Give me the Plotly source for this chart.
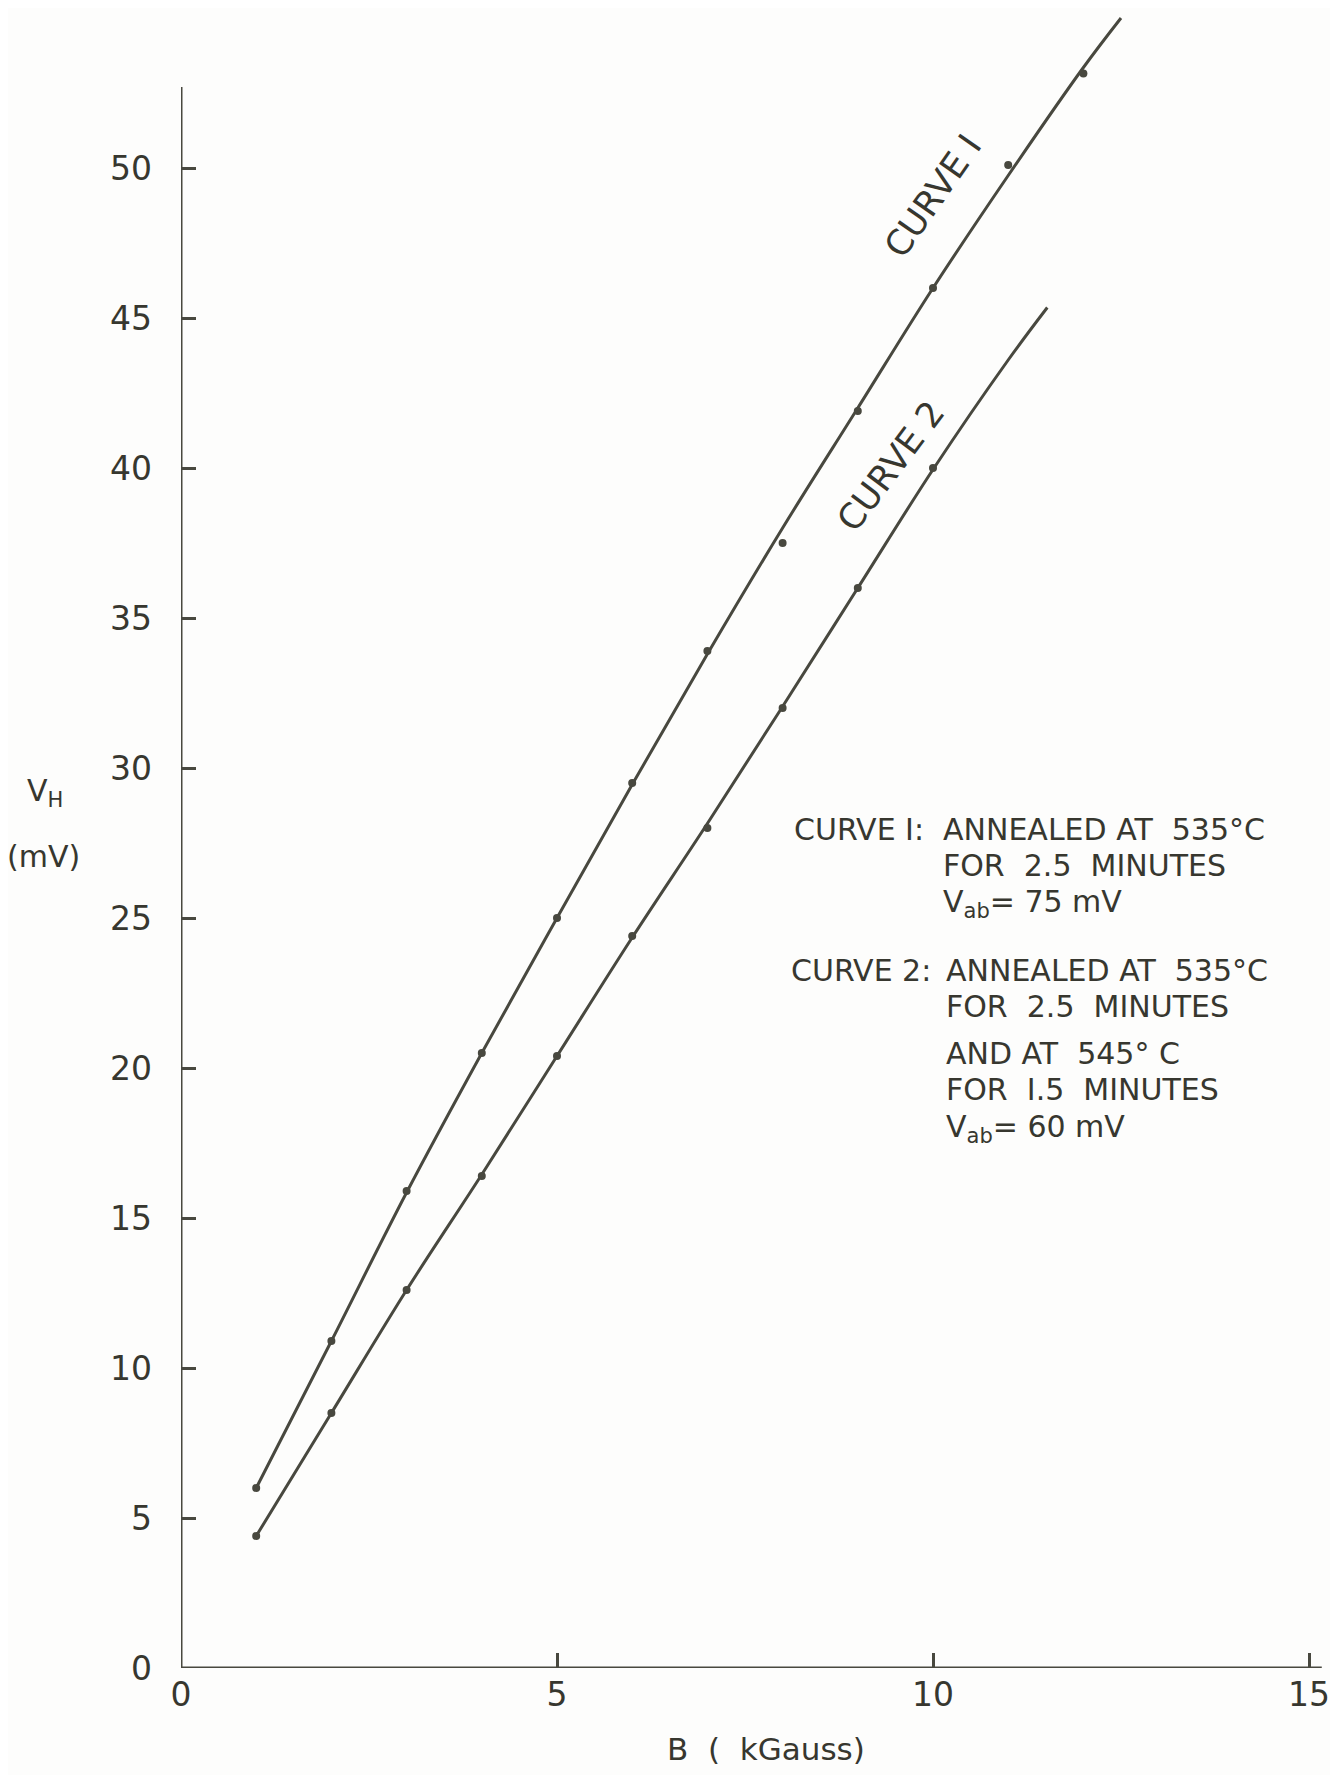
import plotly.graph_objects as go

B_curve1 = [1, 2, 3, 4, 5, 6, 7, 8, 9, 10, 11, 12]
VH_curve1 = [6.0, 10.9, 15.9, 20.5, 25.0, 29.5, 33.9, 37.5, 41.9, 46.0, 50.1, 53.15]
B_curve2 = [1, 2, 3, 4, 5, 6, 7, 8, 9, 10]
VH_curve2 = [4.4, 8.5, 12.6, 16.4, 20.4, 24.4, 28.0, 32.0, 36.0, 40.0]

# ---- the hand-drawn smooth curves ----
B_fit1 = [1, 2, 3, 4, 5, 6, 7, 8, 9, 10, 11, 12, 12.5]
VH_fit1 = [6.0, 10.9, 15.85, 20.5, 25.0, 29.45, 33.8, 38.0, 42.0, 46.0, 49.75, 53.35, 55.0]
B_fit2 = [1, 2, 3, 4, 5, 6, 7, 8, 9, 10, 11, 11.52]
VH_fit2 = [4.4, 8.5, 12.6, 16.45, 20.4, 24.35, 28.15, 32.05, 36.0, 39.95, 43.6, 45.35]

x_ticks = [0, 5, 10, 15]
y_ticks = [0, 5, 10, 15, 20, 25, 30, 35, 40, 45, 50]

# ---- page geometry (reference-page pixels) ----
OFF = 8                      # browser body margin
PW, PH = 1338, 1775
W, H = PW - OFF, PH - OFF
X0_PX, Y0_PX = 181, 1668     # page pixel of data origin
PX_X = 75.2                  # pixels per kGauss
PX_Y = 30.0                  # pixels per mV
L = X0_PX - OFF
Bm = H - (Y0_PX - OFF)
R, T = 7, 3
x_max = (W - L - R) / PX_X
y_max = (H - T - Bm) / PX_Y


def px2data(px, py):
    return (px - X0_PX) / PX_X, (Y0_PX - py) / PX_Y


def px2paper(px, py):
    return (px - OFF - L) / (W - L - R), (H - Bm - (py - OFF)) / (H - T - Bm)


INK = "#37372f"
LINE = "#48483f"
FONT = "DejaVu Sans"

fig = go.Figure()

for bf, vf in [(B_fit1, VH_fit1), (B_fit2, VH_fit2)]:
    fig.add_trace(go.Scatter(
        x=bf, y=vf, mode="lines",
        line=dict(color=LINE, width=3, shape="spline", smoothing=1.0),
        hoverinfo="skip", showlegend=False))
for bx, vy in [(B_curve1, VH_curve1), (B_curve2, VH_curve2)]:
    fig.add_trace(go.Scatter(
        x=bx, y=vy, mode="markers",
        marker=dict(color=LINE, size=8),
        showlegend=False, cliponaxis=False))

# axis lines, drawn to the extents seen in the reference
fig.add_shape(type="line", xref="x", yref="y", x0=0, y0=0, x1=0, y1=52.7,
              line=dict(color=LINE, width=3))
fig.add_shape(type="line", xref="x", yref="y", x0=0, y0=0, x1=15.17, y1=0,
              line=dict(color=LINE, width=3))

ann = []
# curve labels
for txt, px, py, ang in [("CURVE I", 933, 196, -55), ("CURVE 2", 891, 466, -53)]:
    x, y = px2data(px, py)
    ann.append(dict(x=x, y=y, xref="x", yref="y", text=txt, showarrow=False,
                    textangle=ang, font=dict(family=FONT, size=35, color=INK)))

# legend block: (text, x, y, anchor)
legend_lines = [
    ("CURVE I:", 926, 829, "right"),
    ("ANNEALED AT  535°C", 941, 829, "left"),
    ("FOR  2.5  MINUTES", 941, 865, "left"),
    ("V<sub>ab</sub>= 75 mV", 941, 903, "left"),
    ("CURVE 2:", 933, 970, "right"),
    ("ANNEALED AT  535°C", 944, 970, "left"),
    ("FOR  2.5  MINUTES", 944, 1006, "left"),
    ("AND AT  545° C", 944, 1053, "left"),
    ("FOR  I.5  MINUTES", 944, 1089, "left"),
    ("V<sub>ab</sub>= 60 mV", 944, 1128, "left"),
]
for txt, px, py, anc in legend_lines:
    x, y = px2data(px, py)
    ann.append(dict(x=x, y=y, xref="x", yref="y", text=txt, showarrow=False,
                    xanchor=anc, yanchor="middle",
                    font=dict(family=FONT, size=30, color=INK)))

# y axis title and x axis title
for txt, px, py, sz in [("V<sub>H</sub>", 45, 792, 30), ("(mV)", 43, 857, 30),
                        ("B  (  kGauss)", 766, 1749, 31)]:
    x, y = px2paper(px, py)
    ann.append(dict(x=x, y=y, xref="paper", yref="paper", text=txt, showarrow=False,
                    xanchor="center", yanchor="middle",
                    font=dict(family=FONT, size=sz, color=INK)))

fig.update_layout(
    width=W, height=H,
    margin=dict(l=L, r=R, t=T, b=Bm, autoexpand=False),
    paper_bgcolor="#fdfdfc", plot_bgcolor="#fdfdfc",
    font=dict(family=FONT, color=INK),
    annotations=ann,
    xaxis=dict(range=[0, x_max], tickvals=x_ticks, ticktext=[str(v) for v in x_ticks],
               ticks="inside", ticklen=15, tickwidth=3, tickcolor=LINE,
               showgrid=False, zeroline=False, showline=False,
               tickfont=dict(family=FONT, size=33, color=INK),
               ticklabelstandoff=4, automargin=False),
    yaxis=dict(range=[0, y_max], tickvals=y_ticks, ticktext=[str(v) for v in y_ticks],
               ticks="inside", ticklen=15, tickwidth=3, tickcolor=LINE,
               showgrid=False, zeroline=False, showline=False,
               tickfont=dict(family=FONT, size=33, color=INK),
               ticklabelstandoff=28, automargin=False),
)

fig.write_html("out.html")
